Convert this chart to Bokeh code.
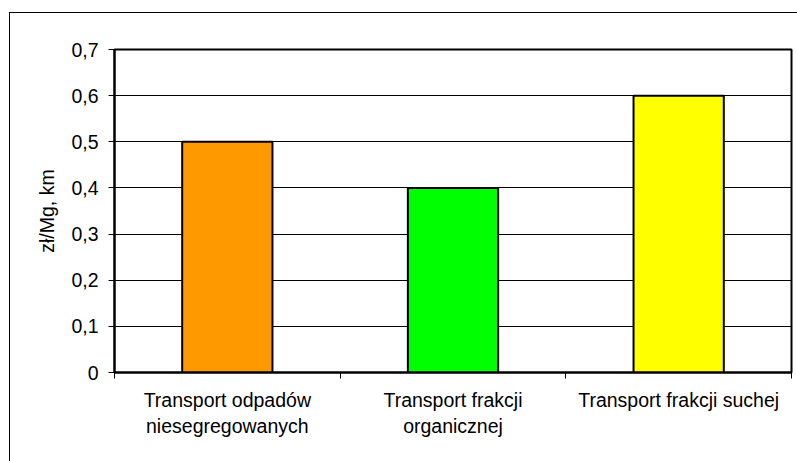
from bokeh.plotting import figure
from bokeh.models import Range1d, FixedTicker, ColumnDataSource
from bokeh.embed import file_html
from bokeh.resources import INLINE

categories = ["Transport odpadów\nniesegregowanych", "Transport frakcji\norganicznej", "Transport frakcji suchej"]
values = [0.5, 0.4, 0.6]
colors = ["#FF9900", "#00FF00", "#FFFF00"]
y_ticks = [0, 0.1, 0.2, 0.3, 0.4, 0.5, 0.6, 0.7]
y_labels = ["0", "0,1", "0,2", "0,3", "0,4", "0,5", "0,6", "0,7"]

FONT = "Liberation Sans"
FS = "19.5px"

xs = [i + 0.5 for i in range(len(categories))]
src = ColumnDataSource(dict(x=xs, top=values, color=colors))

p = figure(width=788, height=449, output_backend="svg", toolbar_location=None,
           x_range=Range1d(0, 3), y_range=Range1d(0, 0.7))
p.margin = (12, 0, 0, 9)
p.styles = {"border-left": "1px solid black", "border-top": "1px solid black", "box-sizing": "border-box"}
p.min_border_left = 104
p.min_border_top = 36
p.min_border_right = 7
p.min_border_bottom = 90
p.background_fill_color = "white"
p.border_fill_color = "white"
p.outline_line_color = "black"
p.outline_line_width = 2

p.vbar(x="x", top="top", width=0.4, bottom=0, fill_color="color", line_color="black", line_width=2, source=src)

p.xgrid.visible = False
p.ygrid.ticker = FixedTicker(ticks=y_ticks)
p.ygrid.grid_line_color = "black"
p.ygrid.grid_line_width = 1

yax = p.yaxis[0]
yax.ticker = FixedTicker(ticks=y_ticks)
yax.major_label_overrides = {t: l for t, l in zip(y_ticks, y_labels)}
yax.major_label_text_font = FONT
yax.major_label_text_font_size = FS
yax.major_label_text_color = "black"
yax.major_tick_out = 6
yax.major_tick_in = 0
yax.minor_tick_line_color = None
yax.axis_line_width = 2
yax.axis_line_color = "black"
yax.major_label_standoff = 10
yax.axis_label = "zł/Mg, km"
yax.axis_label_text_font = FONT
yax.axis_label_text_font_size = FS
yax.axis_label_text_font_style = "normal"
yax.axis_label_text_color = "black"
yax.axis_label_standoff = 10

xax = p.xaxis[0]
xax.ticker = FixedTicker(ticks=xs, minor_ticks=[0, 1, 2, 3])
xax.major_label_overrides = {x: c for x, c in zip(xs, categories)}
xax.major_label_text_font = FONT
xax.major_label_text_font_size = FS
xax.major_label_text_color = "black"
xax.major_tick_line_color = None
xax.minor_tick_out = 6
xax.minor_tick_in = 0
xax.minor_tick_line_color = "black"
xax.axis_line_width = 2
xax.axis_line_color = "black"
xax.major_label_standoff = 10

open("out.html", "w").write(file_html(p, INLINE))
